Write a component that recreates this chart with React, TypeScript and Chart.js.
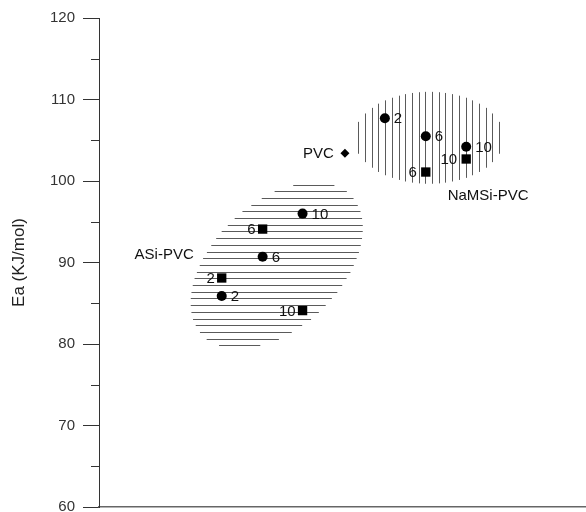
import React, { useEffect, useRef } from 'react';
import { Chart, registerables } from 'chart.js';

Chart.register(...registerables);

// ---- data ----
const yMin = 60;
const yMax = 120;
const yMajorStep = 10;
const yMinorTicks = [65, 75, 85, 95, 105, 115];
const axisTitle = 'Ea (KJ/mol)';

const naCircleX = [58.7, 67.1, 75.4];
const naCircleY = [107.7, 105.5, 104.2];
const naCircleLabels = ['2', '6', '10'];

const naSquareX = [67.1, 75.4];
const naSquareY = [101.1, 102.7];
const naSquareLabels = ['6', '10'];

const asiCircleX = [25.2, 33.6, 41.8];
const asiCircleY = [85.9, 90.7, 96.0];
const asiCircleLabels = ['2', '6', '10'];

const asiSquareX = [25.2, 33.6, 41.8];
const asiSquareY = [88.1, 94.1, 84.1];
const asiSquareLabels = ['2', '6', '10'];

const pvcX = [50.5];
const pvcY = [103.4];
const pvcLabels = ['PVC'];

const groupNames = ['ASi-PVC', 'NaMSi-PVC'];
const groupX = [7.3, 71.6];
const groupY = [90.9, 98.2];

const toPoints = (xs: number[], ys: number[]) => xs.map((x, i) => ({ x, y: ys[i] }));

const FONT = '"Liberation Sans", Arial, Helvetica, sans-serif';

// hatched regions (style config, centres in data units)
const hatchRegions = [
  { cx: 36.5, cy: 89.7, a: 102, b: 63, angle: 43, dir: 'rows', spacing: 6.7, phase: 0 },
  { cx: 67.7, cy: 105.3, a: 75, b: 46, angle: 0, dir: 'cols', spacing: 6.7, phase: 0.5 },
];

const hatchPlugin = {
  id: 'hatch',
  beforeDatasetsDraw(chart: any) {
    const { ctx, scales } = chart;
    ctx.save();
    ctx.strokeStyle = '#5a5a5a';
    ctx.lineWidth = 1;
    for (const r of hatchRegions) {
      const px = scales.x.getPixelForValue(r.cx);
      const py = scales.y.getPixelForValue(r.cy);
      const th = (r.angle * Math.PI) / 180;
      const c = Math.cos(th);
      const s = Math.sin(th);
      const P = (c * c) / (r.a * r.a) + (s * s) / (r.b * r.b);
      const Q = 2 * c * s * (1 / (r.b * r.b) - 1 / (r.a * r.a));
      const R = (s * s) / (r.a * r.a) + (c * c) / (r.b * r.b);
      ctx.beginPath();
      for (let k = -30; k <= 30; k++) {
        const d = (k + r.phase) * r.spacing;
        if (r.dir === 'rows') {
          const disc = Q * Q * d * d - 4 * P * (R * d * d - 1);
          if (disc <= 0) continue;
          const x1 = (-Q * d - Math.sqrt(disc)) / (2 * P);
          const x2 = (-Q * d + Math.sqrt(disc)) / (2 * P);
          const yy = Math.round(py + d) + 0.5;
          ctx.moveTo(px + x1, yy);
          ctx.lineTo(px + x2, yy);
        } else {
          const disc = Q * Q * d * d - 4 * R * (P * d * d - 1);
          if (disc <= 0) continue;
          const y1 = (-Q * d - Math.sqrt(disc)) / (2 * R);
          const y2 = (-Q * d + Math.sqrt(disc)) / (2 * R);
          const xx = Math.round(px + d) + 0.5;
          ctx.moveTo(xx, py + y1);
          ctx.lineTo(xx, py + y2);
        }
      }
      ctx.stroke();
    }
    ctx.restore();
  },
};

const minorTickPlugin = {
  id: 'minorTicks',
  afterDraw(chart: any) {
    const { ctx, scales, chartArea } = chart;
    ctx.save();
    ctx.strokeStyle = '#333';
    ctx.lineWidth = 1;
    ctx.beginPath();
    for (const v of yMinorTicks) {
      const y = Math.round(scales.y.getPixelForValue(v)) + 0.5;
      ctx.moveTo(chartArea.left - 8, y);
      ctx.lineTo(chartArea.left, y);
    }
    ctx.stroke();
    ctx.restore();
  },
};

const labelPlugin = {
  id: 'pointLabels',
  afterDatasetsDraw(chart: any) {
    const { ctx, scales } = chart;
    ctx.save();
    ctx.font = `15px ${FONT}`;
    ctx.fillStyle = '#111';
    ctx.textBaseline = 'middle';
    chart.data.datasets.forEach((ds: any, i: number) => {
      const labels: string[] | undefined = ds.pointLabels;
      if (!labels) return;
      const meta = chart.getDatasetMeta(i);
      meta.data.forEach((el: any, j: number) => {
        const left = ds.labelSide === 'left';
        ctx.textAlign = left ? 'right' : 'left';
        ctx.fillText(labels[j], el.x + (left ? -ds.labelGap : ds.labelGap), el.y + 1);
      });
    });
    ctx.textAlign = 'left';
    groupNames.forEach((name, i) => {
      ctx.fillText(name, scales.x.getPixelForValue(groupX[i]), scales.y.getPixelForValue(groupY[i]));
    });
    ctx.restore();
  },
};

export default function App() {
  const ref = useRef<HTMLCanvasElement>(null);

  useEffect(() => {
    const canvas = ref.current;
    if (!canvas) return;
    const black = '#000';
    const chart = new Chart(canvas, {
      type: 'scatter',
      data: {
        datasets: [
          {
            label: 'NaMSi circles',
            data: toPoints(naCircleX, naCircleY),
            pointStyle: 'circle',
            pointRadius: 5,
            backgroundColor: black,
            borderColor: black,
            borderWidth: 0,
            pointLabels: naCircleLabels,
            labelSide: 'right',
            labelGap: 9,
          } as any,
          {
            label: 'NaMSi squares',
            data: toPoints(naSquareX, naSquareY),
            pointStyle: 'rect',
            pointRadius: 6.6,
            backgroundColor: black,
            borderColor: black,
            borderWidth: 0,
            pointLabels: naSquareLabels,
            labelSide: 'left',
            labelGap: 9,
          } as any,
          {
            label: 'ASi circles',
            data: toPoints(asiCircleX, asiCircleY),
            pointStyle: 'circle',
            pointRadius: 5,
            backgroundColor: black,
            borderColor: black,
            borderWidth: 0,
            pointLabels: asiCircleLabels,
            labelSide: 'right',
            labelGap: 9,
          } as any,
          {
            label: 'ASi squares',
            data: toPoints(asiSquareX, asiSquareY),
            pointStyle: 'rect',
            pointRadius: 6.6,
            backgroundColor: black,
            borderColor: black,
            borderWidth: 0,
            pointLabels: asiSquareLabels,
            labelSide: 'left',
            labelGap: 7,
          } as any,
          {
            label: 'PVC',
            data: toPoints(pvcX, pvcY),
            pointStyle: 'rectRot',
            pointRadius: 4.5,
            backgroundColor: black,
            borderColor: black,
            borderWidth: 0,
            pointLabels: pvcLabels,
            labelSide: 'left',
            labelGap: 11,
          } as any,
        ],
      },
      options: {
        responsive: false,
        animation: false,
        devicePixelRatio: 1,
        layout: { autoPadding: false, padding: { top: 18, bottom: 5, left: 0, right: 0 } },
        plugins: {
          legend: { display: false },
          tooltip: { enabled: false },
          title: { display: false },
        },
        scales: {
          x: {
            type: 'linear',
            min: 0,
            max: 100,
            display: true,
            ticks: { display: false },
            grid: { display: false, drawTicks: false },
            border: { display: true, color: '#666', width: 1.5 },
            afterFit: (scale: any) => {
              scale.height = 0;
              scale.paddingLeft = 0;
              scale.paddingRight = 0;
            },
          },
          y: {
            type: 'linear',
            min: yMin,
            max: yMax,
            ticks: {
              stepSize: yMajorStep,
              color: '#333',
              font: { family: FONT, size: 15 },
              padding: 8,
            },
            grid: {
              drawOnChartArea: false,
              drawTicks: true,
              tickLength: 16,
              color: '#333',
              lineWidth: 1,
            },
            border: { display: true, color: '#333', width: 1 },
            title: {
              display: true,
              text: axisTitle,
              color: '#222',
              font: { family: FONT, size: 17 },
              padding: { top: 9, bottom: 0 },
            },
            afterFit: (scale: any) => {
              scale.width = 99;
              scale.paddingTop = 0;
              scale.paddingBottom = 0;
            },
          },
        },
      } as any,
      plugins: [hatchPlugin, minorTickPlugin, labelPlugin],
    });
    return () => chart.destroy();
  }, []);

  return (
    <div style={{ position: 'fixed', left: 0, top: 0, width: 586, height: 512, background: '#fff' }}>
      <canvas ref={ref} width={586} height={512} style={{ display: 'block', width: 586, height: 512 }} />
    </div>
  );
}
